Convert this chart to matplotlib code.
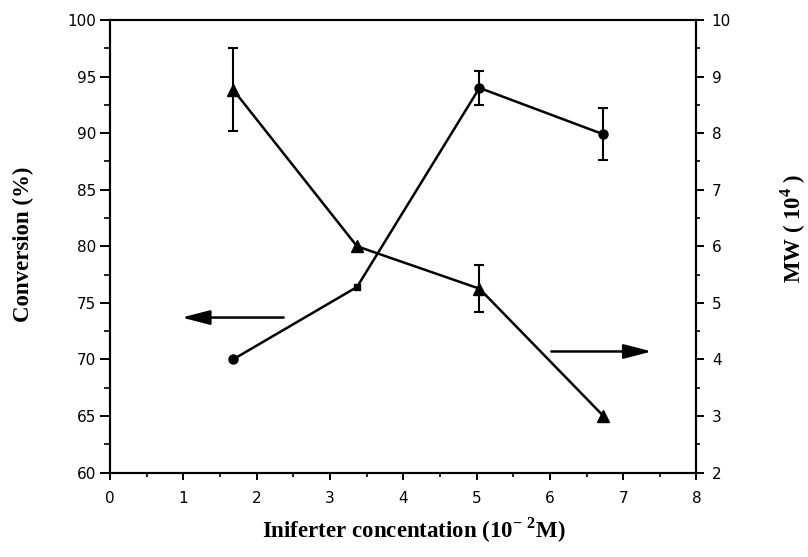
import matplotlib
matplotlib.use("Agg")
import matplotlib.pyplot as plt
from matplotlib.ticker import MultipleLocator

plt.rcParams['mathtext.fontset'] = 'custom'
plt.rcParams['mathtext.rm'] = 'Liberation Serif'
plt.rcParams['mathtext.bf'] = 'Liberation Serif:bold'

# Iniferter concentration (10^-2 M)
conc = [1.68, 3.37, 5.04, 6.73]

# Conversion (%), left axis
conversion = [70.0, 76.4, 94.0, 89.9]
conversion_err = [0.0, 0.0, 1.5, 2.3]
conversion_markers = ['o', 's', 'o', 'o']

# Molecular weight (10^4), right axis
mw = [8.77, 6.0, 5.25, 3.0]
mw_err = [0.74, 0.0, 0.42, 0.0]

x_ticks = [0, 1, 2, 3, 4, 5, 6, 7, 8]
left_ticks = [60, 65, 70, 75, 80, 85, 90, 95, 100]
right_ticks = [2, 3, 4, 5, 6, 7, 8, 9, 10]

fig = plt.figure(figsize=(8.08, 5.57), dpi=100)
ax = fig.add_axes([0.136, 0.1517, 0.862 - 0.136, 0.964 - 0.1517])
ax2 = ax.twinx()

lw = 1.8
# Conversion series
ax.plot(conc, conversion, color='black', lw=lw, zorder=3)
for xi, yi, m in zip(conc, conversion, conversion_markers):
    ms = 5 if m == 's' else 6.5
    ax.plot([xi], [yi], marker=m, color='black', ms=ms, zorder=4)
for xi, yi, e in zip(conc, conversion, conversion_err):
    if e > 0:
        ax.errorbar([xi], [yi], yerr=[e], fmt='none', ecolor='black',
                    elinewidth=1.5, capsize=3.8, capthick=1.5, zorder=3)

# Molecular weight series
ax2.plot(conc, mw, color='black', lw=lw, marker='^', ms=9, zorder=3)
for xi, yi, e in zip(conc, mw, mw_err):
    if e > 0:
        ax2.errorbar([xi], [yi], yerr=[e], fmt='none', ecolor='black',
                     elinewidth=1.5, capsize=3.8, capthick=1.5, zorder=3)

# Arrows pointing to each series' axis
arrow_style = '-|>,head_length=0.85,head_width=0.22'
ax.annotate('', xy=(0.98, 73.7), xytext=(2.37, 73.7),
            arrowprops=dict(arrowstyle=arrow_style, color='black', lw=1.8,
                            mutation_scale=20, shrinkA=0, shrinkB=0))
ax.annotate('', xy=(7.39, 70.7), xytext=(6.02, 70.7),
            arrowprops=dict(arrowstyle=arrow_style, color='black', lw=1.8,
                            mutation_scale=20, shrinkA=0, shrinkB=0))

# Axes limits and ticks
ax.set_xlim(0, 8)
ax.set_ylim(60, 100)
ax2.set_ylim(2, 10)
ax.set_xticks(x_ticks)
ax.set_yticks(left_ticks)
ax2.set_yticks(right_ticks)
ax.xaxis.set_minor_locator(MultipleLocator(0.5))
ax.yaxis.set_minor_locator(MultipleLocator(2.5))
ax2.yaxis.set_minor_locator(MultipleLocator(0.5))

tick_font = dict(family='DejaVu Sans', size=11)
ax.set_xticklabels([str(t) for t in x_ticks], **tick_font)
ax.set_yticklabels([str(t) for t in left_ticks], **tick_font)
ax2.set_yticklabels([str(t) for t in right_ticks], **tick_font)

ax.tick_params(axis='x', which='major', direction='out', length=5, width=1.4, pad=8)
ax.tick_params(axis='x', which='minor', direction='out', length=3, width=1.2)
ax.tick_params(axis='y', which='major', direction='out', length=7, width=1.4, pad=3)
ax.tick_params(axis='y', which='minor', direction='out', length=4, width=1.2)
ax2.tick_params(axis='y', which='major', direction='out', length=6, width=1.4, pad=5)
ax2.tick_params(axis='y', which='minor', direction='out', length=3, width=1.2)

for a in (ax, ax2):
    for s in a.spines.values():
        s.set_linewidth(1.5)

label_font = dict(family='Liberation Serif', weight='bold', size=16.5)
fig.text(0.5125, 1 - 530 / 557, r'Iniferter concentation (10$^{\mathbf{-\ 2}}$M)',
         ha='center', va='center', **label_font)
fig.text(23 / 808, 1 - 244 / 557, 'Conversion (%)', rotation=90,
         ha='center', va='center', **label_font)
fig.text(793 / 808, 1 - 228 / 557, r'MW ( 10$^{\mathbf{4}}$ )', rotation=90,
         ha='center', va='center', **label_font)

fig.savefig('out.png', dpi=100)
